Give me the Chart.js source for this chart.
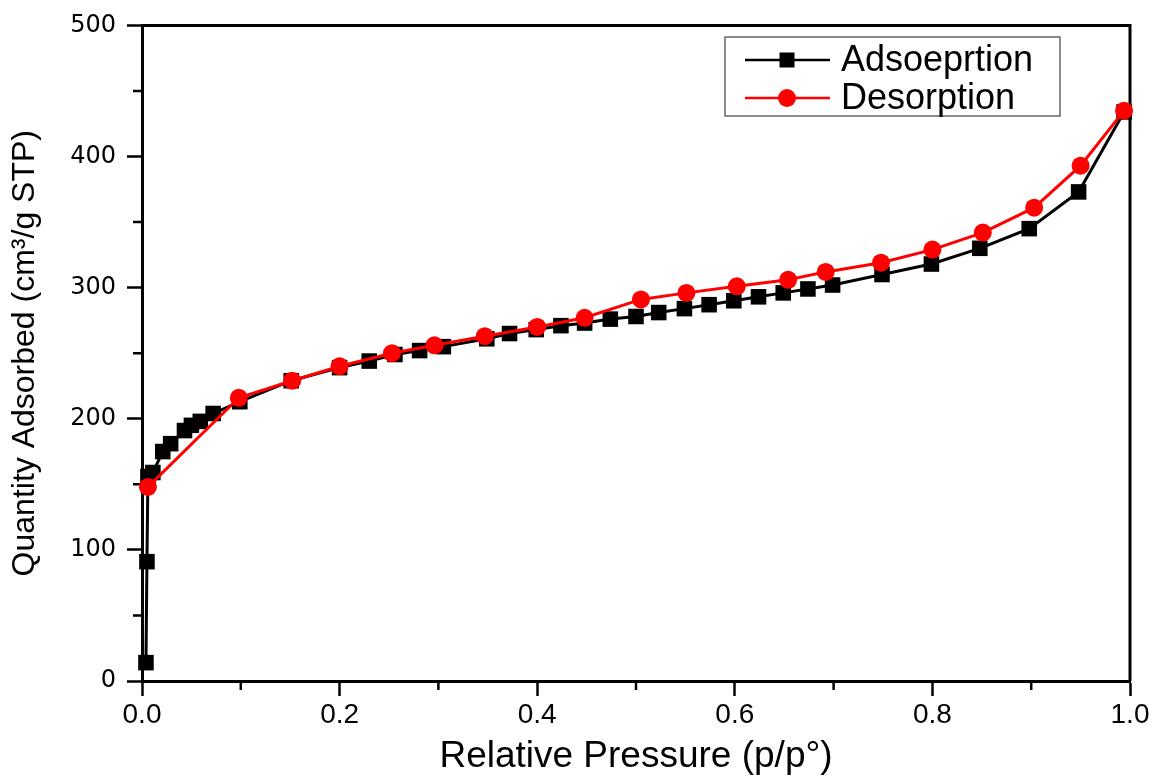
<!DOCTYPE html>
<html><head><meta charset="utf-8">
<script src="https://cdn.jsdelivr.net/npm/chart.js@4"></script>
<style>html,body{margin:0;padding:0;background:#fff;}</style>
</head><body>
<canvas id="c" width="1157" height="781"></canvas>
<script>
const adsPressure = [0.004,0.005,0.006,0.011,0.021,0.029,0.043,0.050,0.059,0.072,0.099,0.151,0.200,0.230,0.256,0.281,0.305,0.349,0.372,0.399,0.424,0.448,0.474,0.500,0.523,0.549,0.574,0.599,0.624,0.649,0.674,0.699,0.749,0.799,0.848,0.898,0.948,0.994];
const adsQuantity = [14,91,156,159,175,181,191,195,198,204,213,229,239,244,249,252,255,261,265,268,271,273,276,278,281,284,287,290,293,296,299,302,310,318,330,345,373,434];
const desPressure = [0.006,0.098,0.152,0.200,0.253,0.296,0.347,0.400,0.448,0.505,0.551,0.602,0.654,0.692,0.748,0.800,0.851,0.903,0.950,0.994];
const desQuantity = [148,216,229,240,250,256,263,270,277,291,296,301,306,312,319,329,342,361,393,435];
const xTickValues = [0, 0.2, 0.4, 0.6, 0.8, 1.0];
const xMinorTicks = [0.1, 0.3, 0.5, 0.7, 0.9];
const yTickValues = [0, 100, 200, 300, 400, 500];
const yMinorTicks = [50, 150, 250, 350, 450];
const seriesLabels = ['Adsoeprtion', 'Desorption'];
const xTitle = 'Relative Pressure (p/p°)';
const yTitle = 'Quantity Adsorbed (cm³/g STP)';

const toPoints = (xs, ys) => xs.map((v, i) => ({x: v, y: ys[i]}));

const framePlugin = {
  id: 'frameMinor',
  beforeDatasetsDraw(chart) {
    const {ctx, chartArea: a, scales: {x, y}} = chart;
    ctx.save();
    ctx.strokeStyle = '#000';
    ctx.lineWidth = 3;
    ctx.beginPath();
    ctx.moveTo(a.left, a.top); ctx.lineTo(a.right, a.top); ctx.lineTo(a.right, a.bottom);
    ctx.stroke();
    ctx.lineWidth = 2.5;
    ctx.beginPath();
    yMinorTicks.forEach(v => { const py = y.getPixelForValue(v); ctx.moveTo(a.left, py); ctx.lineTo(a.left - 9, py); });
    xMinorTicks.forEach(v => { const px = x.getPixelForValue(v); ctx.moveTo(px, a.bottom); ctx.lineTo(px, a.bottom + 9); });
    ctx.stroke();
    ctx.restore();
  },
  afterDatasetsDraw(chart) {
    const {ctx} = chart;
    ctx.save();
    ctx.fillStyle = '#fff';
    ctx.fillRect(725, 37, 335, 79);
    ctx.strokeStyle = '#666';
    ctx.lineWidth = 1.5;
    ctx.strokeRect(725, 37, 335, 79);
    chart.data.datasets.forEach((ds, i) => {
      const cy = 60 + i * 38;
      ctx.strokeStyle = ds.borderColor;
      ctx.lineWidth = 2.5;
      ctx.beginPath(); ctx.moveTo(745, cy); ctx.lineTo(830, cy); ctx.stroke();
      ctx.fillStyle = ds.pointBackgroundColor;
      ctx.beginPath();
      if (ds.pointStyle === 'rect') { ctx.rect(787 - 7.5, cy - 7.5, 15, 15); }
      else { ctx.arc(787, cy, 9, 0, Math.PI * 2); }
      ctx.fill();
      ctx.fillStyle = '#000';
      ctx.font = '36px "Liberation Sans", Arial, sans-serif';
      ctx.textBaseline = 'middle';
      ctx.textAlign = 'left';
      ctx.fillText(ds.label, 841, cy + 1);
    });
    ctx.restore();
  }
};

new Chart(document.getElementById('c'), {
  type: 'line',
  data: {
    datasets: [
      { label: seriesLabels[0], data: toPoints(adsPressure, adsQuantity), borderColor: '#000', backgroundColor: '#000',
        pointBackgroundColor: '#000', pointBorderColor: '#000', pointStyle: 'rect', pointRadius: 11, pointBorderWidth: 0,
        borderWidth: 3, order: 1, clip: false, tension: 0 },
      { label: seriesLabels[1], data: toPoints(desPressure, desQuantity), borderColor: '#ff0000', backgroundColor: '#ff0000',
        pointBackgroundColor: '#ff0000', pointBorderColor: '#ff0000', pointStyle: 'circle', pointRadius: 9, pointBorderWidth: 0,
        borderWidth: 3, order: 0, clip: false, tension: 0 }
    ]
  },
  options: {
    responsive: false,
    animation: false,
    devicePixelRatio: 1,
    layout: { padding: { left: 0, right: 27, top: 25, bottom: 0 } },
    plugins: { legend: { display: false }, tooltip: { enabled: false } },
    scales: {
      x: {
        type: 'linear', min: 0, max: 1,
        afterBuildTicks: s => { s.ticks = xTickValues.map(v => ({value: v})); },
        afterFit: s => { s.height = 100; },
        border: { display: true, color: '#000', width: 3 },
        grid: { display: true, drawOnChartArea: false, drawTicks: true, tickLength: 15, tickWidth: 2.5, tickColor: '#000', color: '#000' },
        ticks: { color: '#000', padding: 2, maxRotation: 0, font: { family: '"Liberation Sans", Arial, sans-serif', size: 28 },
                 callback: v => Number(v).toFixed(1) },
        title: { display: true, text: xTitle, color: '#000', font: { family: '"Liberation Sans", Arial, sans-serif', size: 37 }, padding: { top: 0, bottom: 2 } }
      },
      y: {
        type: 'linear', min: 0, max: 500,
        afterBuildTicks: s => { s.ticks = yTickValues.map(v => ({value: v})); },
        afterFit: s => { s.width = 142; },
        border: { display: true, color: '#000', width: 3 },
        grid: { display: true, drawOnChartArea: false, drawTicks: true, tickLength: 15, tickWidth: 2.5, tickColor: '#000', color: '#000' },
        ticks: { color: '#000', padding: 11, font: { family: '"DejaVu Sans", sans-serif', size: 24 }, callback: v => String(v) },
        title: { display: true, text: yTitle, color: '#000', font: { family: '"Liberation Sans", Arial, sans-serif', size: 32 }, padding: { top: 6, bottom: 0 } }
      }
    }
  },
  plugins: [framePlugin]
});
</script>
</body></html>
